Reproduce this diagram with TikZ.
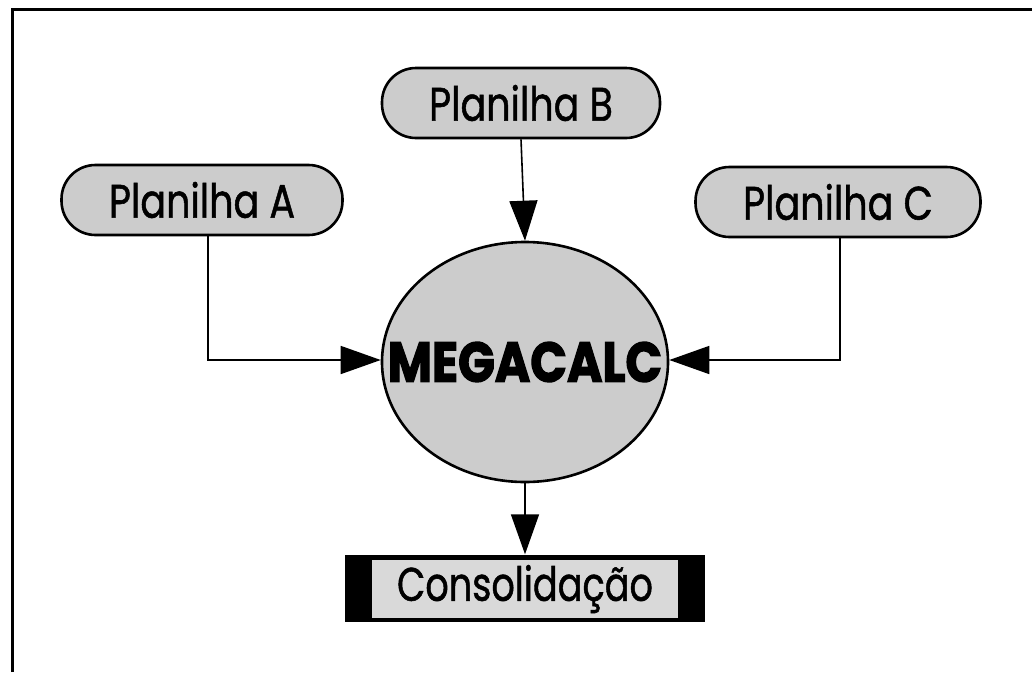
\documentclass[tikz,border=0pt]{standalone}
\usepackage{fontspec}
\setmainfont{Poppins}[UprightFeatures={FakeBold=1.2},BoldFeatures={FakeBold=2.5}]
\usetikzlibrary{arrows.meta,shapes.geometric}
\definecolor{boxgray}{gray}{0.80}
\definecolor{innergray}{gray}{0.85}
\newcommand{\sqtxt}[2]{\scalebox{#1}[1]{#2}}
\tikzset{
  planbox/.style={draw=black,line width=2.6pt,fill=boxgray,rounded corners=34pt,
    minimum width=#1,minimum height=70pt,inner sep=0pt,font=\fontsize{47}{50}\selectfont},
  conn/.style={line width=1.6pt,-{Triangle[length=40pt,width=28pt]}},
}
\begin{document}
\begin{tikzpicture}[x=1pt,y=-1pt]
\useasboundingbox (0,0) rectangle (1032,672);
\fill[white] (0,0) rectangle (1032,672);
\draw[line width=3pt] (12,672) -- (12,9) -- (1032,9);
\node[planbox=278pt] (B) at (521,103) {\sqtxt{0.81}{Planilha B}};
\node[planbox=281pt] (A) at (202,200) {\sqtxt{0.81}{Planilha A}};
\node[planbox=285pt] (C) at (838,202) {\sqtxt{0.81}{Planilha C}};
\node[ellipse,draw=black,line width=2.6pt,fill=boxgray,minimum width=286pt,minimum height=240pt,inner sep=0pt] (M) at (525,362) {};
\node[font=\fontsize{56}{60}\selectfont\bfseries,inner sep=0pt] (Mt) at (M.center) {\sqtxt{0.86}{MEGACALC}};
\node[fill=black,minimum width=360pt,minimum height=67pt,inner sep=0pt] (K) at (525,588) {};
\node[fill=innergray,minimum width=306pt,minimum height=58pt,inner sep=0pt,
  font=\fontsize{47}{50}\selectfont] (Ki) at (525,589) {\sqtxt{0.78}{Consolidação}};
\coordinate (a1) at (208,360);
\coordinate (c1) at (840,360);
\draw[conn] (B.south) -- (M.north);
\draw[conn] (A.south -| a1) -- (a1) -- (M.west |- a1);
\draw[conn] (C.south -| c1) -- (c1) -- (M.east |- c1);
\draw[conn] (M.south) -- (K.north);
\end{tikzpicture}
\end{document}
